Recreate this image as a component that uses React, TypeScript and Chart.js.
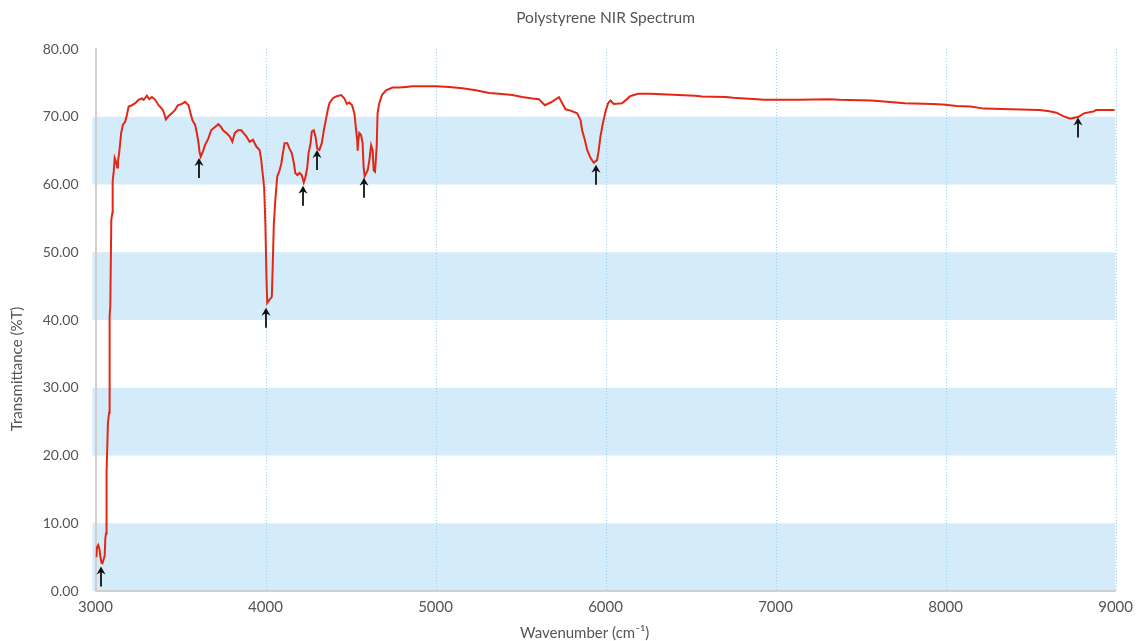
import React, { useEffect, useRef } from "react";
import { Chart, registerables } from "chart.js";

Chart.register(...registerables);

const wavenumbers = [
  3005, 3009, 3016, 3023, 3028, 3035, 3041, 3047, 3054, 3058, 3062, 3063, 3067, 3073, 3080, 3083, 3087, 3093, 3099, 3101,
  3107, 3113, 3120, 3128, 3132, 3140, 3151, 3161, 3175, 3185, 3195, 3214, 3234, 3253, 3273, 3283, 3302, 3316, 3332, 3351,
  3371, 3390, 3400, 3414, 3430, 3449, 3468, 3484, 3508, 3527, 3547, 3556, 3570, 3586, 3596, 3606, 3612, 3619, 3631, 3644,
  3664, 3680, 3703, 3723, 3738, 3750, 3770, 3789, 3805, 3819, 3838, 3858, 3871, 3887, 3907, 3926, 3946, 3965, 3975, 3981,
  3986, 3992, 3999, 4005, 4010, 4024, 4037, 4043, 4049, 4059, 4069, 4083, 4093, 4102, 4112, 4128, 4141, 4155, 4167, 4175,
  4187, 4200, 4213, 4225, 4233, 4245, 4253, 4265, 4272, 4284, 4294, 4304, 4317, 4331, 4343, 4351, 4366, 4376, 4395, 4415,
  4445, 4464, 4478, 4493, 4509, 4523, 4533, 4539, 4542, 4546, 4552, 4562, 4571, 4577, 4583, 4601, 4611, 4621, 4630, 4636,
  4644, 4654, 4659, 4669, 4685, 4709, 4747, 4787, 4826, 4865, 4924, 5002, 5080, 5158, 5237, 5315, 5374, 5452, 5510, 5569,
  5608, 5643, 5677, 5726, 5745, 5765, 5794, 5833, 5853, 5862, 5878, 5892, 5912, 5931, 5950, 5960, 5970, 5984, 6000, 6015,
  6029, 6048, 6097, 6126, 6142, 6166, 6193, 6264, 6365, 6527, 6567, 6709, 6750, 6891, 6932, 7134, 7316, 7377, 7559, 7620,
  7761, 7923, 7984, 8065, 8146, 8227, 8389, 8551, 8611, 8652, 8692, 8733, 8763, 8783, 8813, 8874, 8884, 8994,
];

const transmittance = [
  5.0, 6.5, 6.8, 6.2, 5.2, 4.2, 4.1, 4.6, 5.2, 7.8, 8.5, 15.4, 17.4, 24.8, 26.3, 40.5, 42.0, 54.8, 55.8, 60.5,
  61.9, 63.9, 63.4, 62.5, 63.4, 64.8, 67.6, 68.8, 69.3, 70.3, 71.5, 71.7, 72.0, 72.5, 72.7, 72.5, 73.1, 72.6, 72.9, 72.5,
  71.7, 71.2, 70.8, 69.6, 70.1, 70.5, 71.0, 71.7, 71.9, 72.2, 71.7, 70.8, 69.5, 68.8, 67.6, 66.1, 64.8, 64.1, 64.8, 65.8,
  66.8, 68.0, 68.5, 68.9, 68.5, 68.0, 67.6, 67.1, 66.3, 67.6, 68.0, 68.0, 67.6, 67.1, 66.3, 66.6, 65.6, 65.1, 63.6, 62.1,
  61.0, 59.5, 54.3, 46.9, 42.5, 43.0, 43.4, 48.4, 54.3, 58.2, 61.2, 62.1, 63.1, 64.6, 66.1, 66.1, 65.3, 64.6, 63.1, 61.7,
  61.4, 61.7, 61.4, 60.3, 60.9, 62.4, 64.6, 66.1, 67.8, 68.0, 67.1, 65.3, 65.1, 66.1, 68.0, 69.0, 71.0, 72.0, 72.7, 73.0,
  73.2, 72.7, 71.9, 72.1, 71.7, 70.5, 68.0, 66.6, 65.0, 66.5, 67.6, 67.3, 66.1, 62.6, 61.2, 62.1, 63.6, 65.8, 65.1, 62.1,
  61.9, 65.6, 70.5, 72.0, 73.2, 73.9, 74.3, 74.3, 74.4, 74.5, 74.5, 74.5, 74.4, 74.2, 73.9, 73.5, 73.4, 73.2, 72.9, 72.7,
  72.6, 71.7, 72.1, 72.9, 72.0, 71.1, 70.9, 70.5, 69.5, 68.0, 66.6, 65.1, 63.9, 63.2, 63.6, 65.1, 67.1, 69.0, 70.8, 72.0,
  72.4, 71.9, 72.0, 72.6, 73.0, 73.2, 73.4, 73.4, 73.3, 73.1, 73.0, 72.9, 72.8, 72.6, 72.5, 72.5, 72.6, 72.5, 72.4, 72.3,
  72.0, 71.9, 71.8, 71.6, 71.5, 71.2, 71.1, 71.0, 70.8, 70.6, 70.1, 69.7, 69.9, 70.0, 70.5, 70.8, 71.0, 71.0,
];

// Peak markers (arrows point up at these)
const peakWavenumbers = [3030, 3607, 4004, 4223, 4305, 4581, 5943, 8777];
const peakTransmittance = [3.6, 63.9, 41.8, 59.8, 65.1, 61.0, 62.9, 69.9];

// Alternating shaded bands on y
const bandStarts = [0, 20, 40, 60];
const bandEnds = [10, 30, 50, 70];

const xTicksMin = 3000;
const xTicksMax = 9000;
const yTicksMin = 0;
const yTicksMax = 80;

const chartTitle = "Polystyrene NIR Spectrum";
const xTitle = "Wavenumber (cm⁻¹)";
const yTitle = "Transmittance (%T)";

const FONT = "Lato, 'Open Sans', 'DejaVu Sans', sans-serif";

const bandsPlugin = {
  id: "bands",
  beforeDraw(chart: any) {
    const { ctx, chartArea, scales } = chart;
    const y = scales.y;
    ctx.save();
    ctx.fillStyle = "rgb(212,235,250)";
    for (let i = 0; i < bandStarts.length; i++) {
      const top = y.getPixelForValue(bandEnds[i]);
      const bottom = y.getPixelForValue(bandStarts[i]);
      ctx.fillRect(chartArea.left - 3, top, chartArea.right - chartArea.left + 3, bottom - top);
    }
    // dotted vertical grid lines at x ticks
    const x = scales.x;
    ctx.strokeStyle = "rgb(150,208,238)";
    ctx.lineWidth = 1;
    ctx.setLineDash([1, 2]);
    for (const t of x.ticks) {
      const px = Math.round(x.getPixelForValue(t.value)) + 0.5;
      ctx.beginPath();
      ctx.moveTo(px, chartArea.top);
      ctx.lineTo(px, chartArea.bottom);
      ctx.stroke();
    }
    ctx.restore();
  },
};

const axisTitlesPlugin = {
  id: "axisTitles",
  afterDraw(chart: any) {
    const { ctx, chartArea } = chart;
    ctx.save();
    ctx.fillStyle = "#555";
    ctx.font = `15px ${FONT}`;
    ctx.textAlign = "center";
    ctx.textBaseline = "middle";
    const cx = (chartArea.left + chartArea.right) / 2 - 21;
    ctx.fillText(xTitle, cx, chart.height - 8);
    const cy = (chartArea.top + chartArea.bottom) / 2 + 49;
    ctx.translate(17, cy);
    ctx.rotate(-Math.PI / 2);
    ctx.fillText(yTitle, 0, 0);
    ctx.restore();
  },
};

const arrowsPlugin = {
  id: "arrows",
  afterDatasetsDraw(chart: any) {
    const { ctx, scales } = chart;
    ctx.save();
    ctx.strokeStyle = "#111";
    ctx.fillStyle = "#111";
    ctx.lineWidth = 1.8;
    for (let i = 0; i < peakWavenumbers.length; i++) {
      const px = Math.round(scales.x.getPixelForValue(peakWavenumbers[i]));
      const py = scales.y.getPixelForValue(peakTransmittance[i]);
      ctx.beginPath();
      ctx.moveTo(px, py + 3);
      ctx.lineTo(px, py + 20);
      ctx.stroke();
      ctx.beginPath();
      ctx.moveTo(px, py);
      ctx.lineTo(px + 4.5, py + 8);
      ctx.lineTo(px, py + 5.5);
      ctx.lineTo(px - 4.5, py + 8);
      ctx.closePath();
      ctx.fill();
    }
    ctx.restore();
  },
};

export default function App() {
  const canvasRef = useRef<HTMLCanvasElement | null>(null);

  useEffect(() => {
    document.body.style.margin = "0";
    const canvas = canvasRef.current;
    if (!canvas) return;
    const data = wavenumbers.map((w, i) => ({ x: w, y: transmittance[i] }));
    const chart = new Chart(canvas, {
      type: "line",
      data: {
        datasets: [
          {
            label: "Polystyrene",
            data,
            borderColor: "rgb(228,38,20)",
            borderWidth: 2,
            pointRadius: 0,
            tension: 0,
            fill: false,
          },
        ],
      },
      options: {
        animation: false,
        responsive: false,
        maintainAspectRatio: false,
        layout: { padding: { left: 0, right: 21, top: 0, bottom: 0 } },
        plugins: {
          legend: { display: false },
          tooltip: { enabled: false },
          title: {
            display: true,
            text: chartTitle,
            color: "#555",
            fullSize: false,
            font: { family: FONT, size: 15.5, weight: "normal" },
            padding: { top: 9, bottom: 21.4 },
          },
        },
        scales: {
          x: {
            type: "linear",
            min: xTicksMin,
            max: xTicksMax,
            afterFit(scale: any) {
              scale.height = 50;
            },
            ticks: {
              stepSize: 1000,
              color: "#555",
              padding: 7,
              font: { family: FONT, size: 15 },
              callback: (v: any) => String(v),
              maxRotation: 0,
            },
            grid: { display: false, drawTicks: false },
            border: { display: true, color: "#d0d0d0", width: 2 },
            title: { display: false },
          },
          y: {
            type: "linear",
            min: yTicksMin,
            max: yTicksMax,
            afterFit(scale: any) {
              scale.width = 95.5;
            },
            ticks: {
              stepSize: 10,
              color: "#555",
              padding: 17,
              font: { family: FONT, size: 14 },
              callback: (v: any) => Number(v).toFixed(2),
            },
            grid: { display: false, drawTicks: false },
            border: { display: true, color: "#d0d0d0", width: 2 },
            title: { display: false },
          },
        },
      },
      plugins: [bandsPlugin, arrowsPlugin, axisTitlesPlugin],
    } as any);
    return () => chart.destroy();
  }, []);

  return (
    <div style={{ width: 1140, height: 641 }}>
      <canvas ref={canvasRef} width={1140} height={641} style={{ width: 1140, height: 641, display: "block" }} />
    </div>
  );
}
